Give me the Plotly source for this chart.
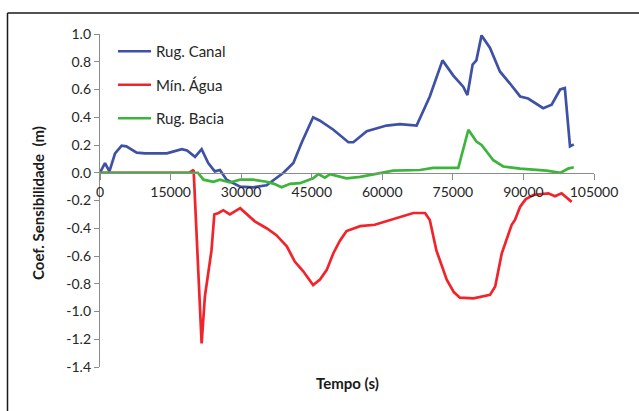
import plotly.graph_objects as go

# ---- data ----
canal_t = [0, 1060, 2000, 3200, 4600, 5600, 7800, 9600, 14200, 17400, 18500, 20200, 21600,
           23000, 24400, 25500, 26900, 29800, 32600, 35400, 39000, 41100, 42900, 45300,
           46760, 49600, 52800, 53850, 56700, 60900, 63760, 67300, 70100, 72800, 75100,
           77200, 78100, 79200, 80000, 81100, 82900, 85000, 87100, 89300, 91000, 94200,
           96000, 97800, 98800, 99900, 100700]
canal_v = [0.0, 0.07, 0.01, 0.14, 0.195, 0.19, 0.145, 0.14, 0.14, 0.17, 0.16, 0.115, 0.17,
           0.07, 0.01, 0.02, -0.05, -0.10, -0.105, -0.09, 0.0, 0.07, 0.22, 0.40,
           0.375, 0.31, 0.22, 0.22, 0.30, 0.34, 0.35, 0.34, 0.55, 0.81, 0.70,
           0.62, 0.56, 0.78, 0.81, 0.99, 0.90, 0.73, 0.645, 0.55, 0.535, 0.465,
           0.49, 0.60, 0.61, 0.19, 0.205]

agua_t = [0, 19000, 19900, 21600, 22300, 22950, 23700, 24300, 25200, 26200, 27600, 29800,
          31000, 32900, 35400, 37500, 39700, 41400, 43200, 45300, 46760, 48200, 49600,
          51000, 52400, 55300, 58400, 60900, 64500, 66600, 69100, 70100, 71500, 73700,
          75200, 76500, 79400, 82900, 84000, 85400, 87500, 88200, 89300, 90500, 92100,
          95300, 96700, 98100, 100250]
agua_v = [0.0, 0.0, 0.02, -1.23, -0.89, -0.75, -0.56, -0.30, -0.29, -0.27, -0.30, -0.255,
          -0.29, -0.35, -0.40, -0.45, -0.53, -0.64, -0.71, -0.81, -0.77, -0.70, -0.58,
          -0.49, -0.42, -0.385, -0.375, -0.35, -0.315, -0.29, -0.29, -0.34, -0.56, -0.77,
          -0.86, -0.90, -0.905, -0.88, -0.82, -0.58, -0.375, -0.34, -0.245, -0.19, -0.16,
          -0.148, -0.17, -0.148, -0.21]

bacia_t = [0, 20800, 22000, 24100, 25500, 27600, 29800, 32600, 35400, 37000, 38600, 40400,
           42500, 45300, 46400, 47800, 48900, 51000, 52400, 55300, 59900, 62300, 68000,
           70800, 76150, 78300, 80000, 81100, 83600, 85700, 89300, 94900, 97900, 99500,
           100700]
bacia_v = [0.0, 0.0, -0.05, -0.065, -0.05, -0.07, -0.05, -0.05, -0.065, -0.08, -0.105, -0.08,
           -0.075, -0.04, -0.01, -0.035, -0.01, -0.03, -0.04, -0.03, 0.0, 0.015, 0.02,
           0.035, 0.035, 0.31, 0.225, 0.20, 0.09, 0.045, 0.03, 0.015, 0.0, 0.03,
           0.04]

x_ticks = [0, 15000, 30000, 45000, 60000, 75000, 90000, 105000]
y_ticks = [1.0, 0.8, 0.6, 0.4, 0.2, 0.0, -0.2, -0.4, -0.6, -0.8, -1.0, -1.2, -1.4]

FONT = "Lato"
fig = go.Figure()
fig.add_trace(go.Scatter(x=canal_t, y=canal_v, mode="lines", name="Rug. Canal",
                         legendgroup="a", line=dict(color="#3F51A4", width=2.7)))
fig.add_trace(go.Scatter(x=agua_t, y=agua_v, mode="lines", name="Mín. Água",
                         legendgroup="b", line=dict(color="#F2242B", width=2.7)))
fig.add_trace(go.Scatter(x=bacia_t, y=bacia_v, mode="lines", name="Rug. Bacia",
                         legendgroup="c", line=dict(color="#3CB53A", width=2.7)))

W, H = 639, 411
L, R, T, B = 100, 45, 34, 44
pw, ph = W - L - R, H - T - B

def px_x(px):
    return (px - L) / pw

def px_y(py):
    return (H - B - py) / ph

fig.update_layout(
    width=W, height=H,
    margin=dict(l=L, r=R, t=T, b=B),
    paper_bgcolor="white", plot_bgcolor="white",
    font=dict(family=FONT, size=14, color="#262626"),
    showlegend=True,
    legend=dict(x=px_x(113), y=px_y(35), xanchor="left", yanchor="top",
                bgcolor="rgba(0,0,0,0)", traceorder="grouped", tracegroupgap=11,
                font=dict(family=FONT, size=15, color="#262626"), itemwidth=33),
    xaxis=dict(range=[0, 105000], tickvals=x_ticks, ticktext=[str(v) for v in x_ticks],
               showgrid=False, zeroline=False, showline=True, linecolor="#8C8C8C",
               linewidth=1.3, ticks="outside", ticklen=6, tickcolor="#8C8C8C",
               anchor="free", position=1.4 / 2.4,
               tickfont=dict(family=FONT, size=14, color="#262626")),
    yaxis=dict(range=[-1.4, 1.0], tickvals=y_ticks, ticktext=[f"{v:.1f}" for v in y_ticks],
               showgrid=False, zeroline=False, showline=True, linecolor="#8C8C8C",
               linewidth=1.3, ticks="outside", ticklen=5, tickcolor="#8C8C8C",
               tickfont=dict(family=FONT, size=14, color="#262626")),
    shapes=[
        dict(type="line", xref="paper", yref="paper", x0=px_x(7.5), x1=px_x(645),
             y0=px_y(13), y1=px_y(13), line=dict(color="#1a1a1a", width=1.5)),
        dict(type="line", xref="paper", yref="paper", x0=px_x(7.5), x1=px_x(7.5),
             y0=px_y(13), y1=px_y(420), line=dict(color="#1a1a1a", width=1.5)),
    ],
    annotations=[
        dict(text="<b>Tempo (s)</b>", xref="paper", yref="paper", x=px_x(347), y=px_y(383),
             showarrow=False, xanchor="center", yanchor="middle",
             font=dict(family=FONT, size=15, color="#1a1a1a")),
        dict(text="<b>Coef. Sensibilidade  (m)</b>", xref="paper", yref="paper",
             x=px_x(38), y=px_y(203), textangle=-90, showarrow=False,
             xanchor="center", yanchor="middle",
             font=dict(family=FONT, size=15, color="#1a1a1a")),
    ],
)

fig.write_html("out.html", config={"displayModeBar": False},
               post_script="document.body.style.margin='0';document.body.style.overflow='hidden';")
